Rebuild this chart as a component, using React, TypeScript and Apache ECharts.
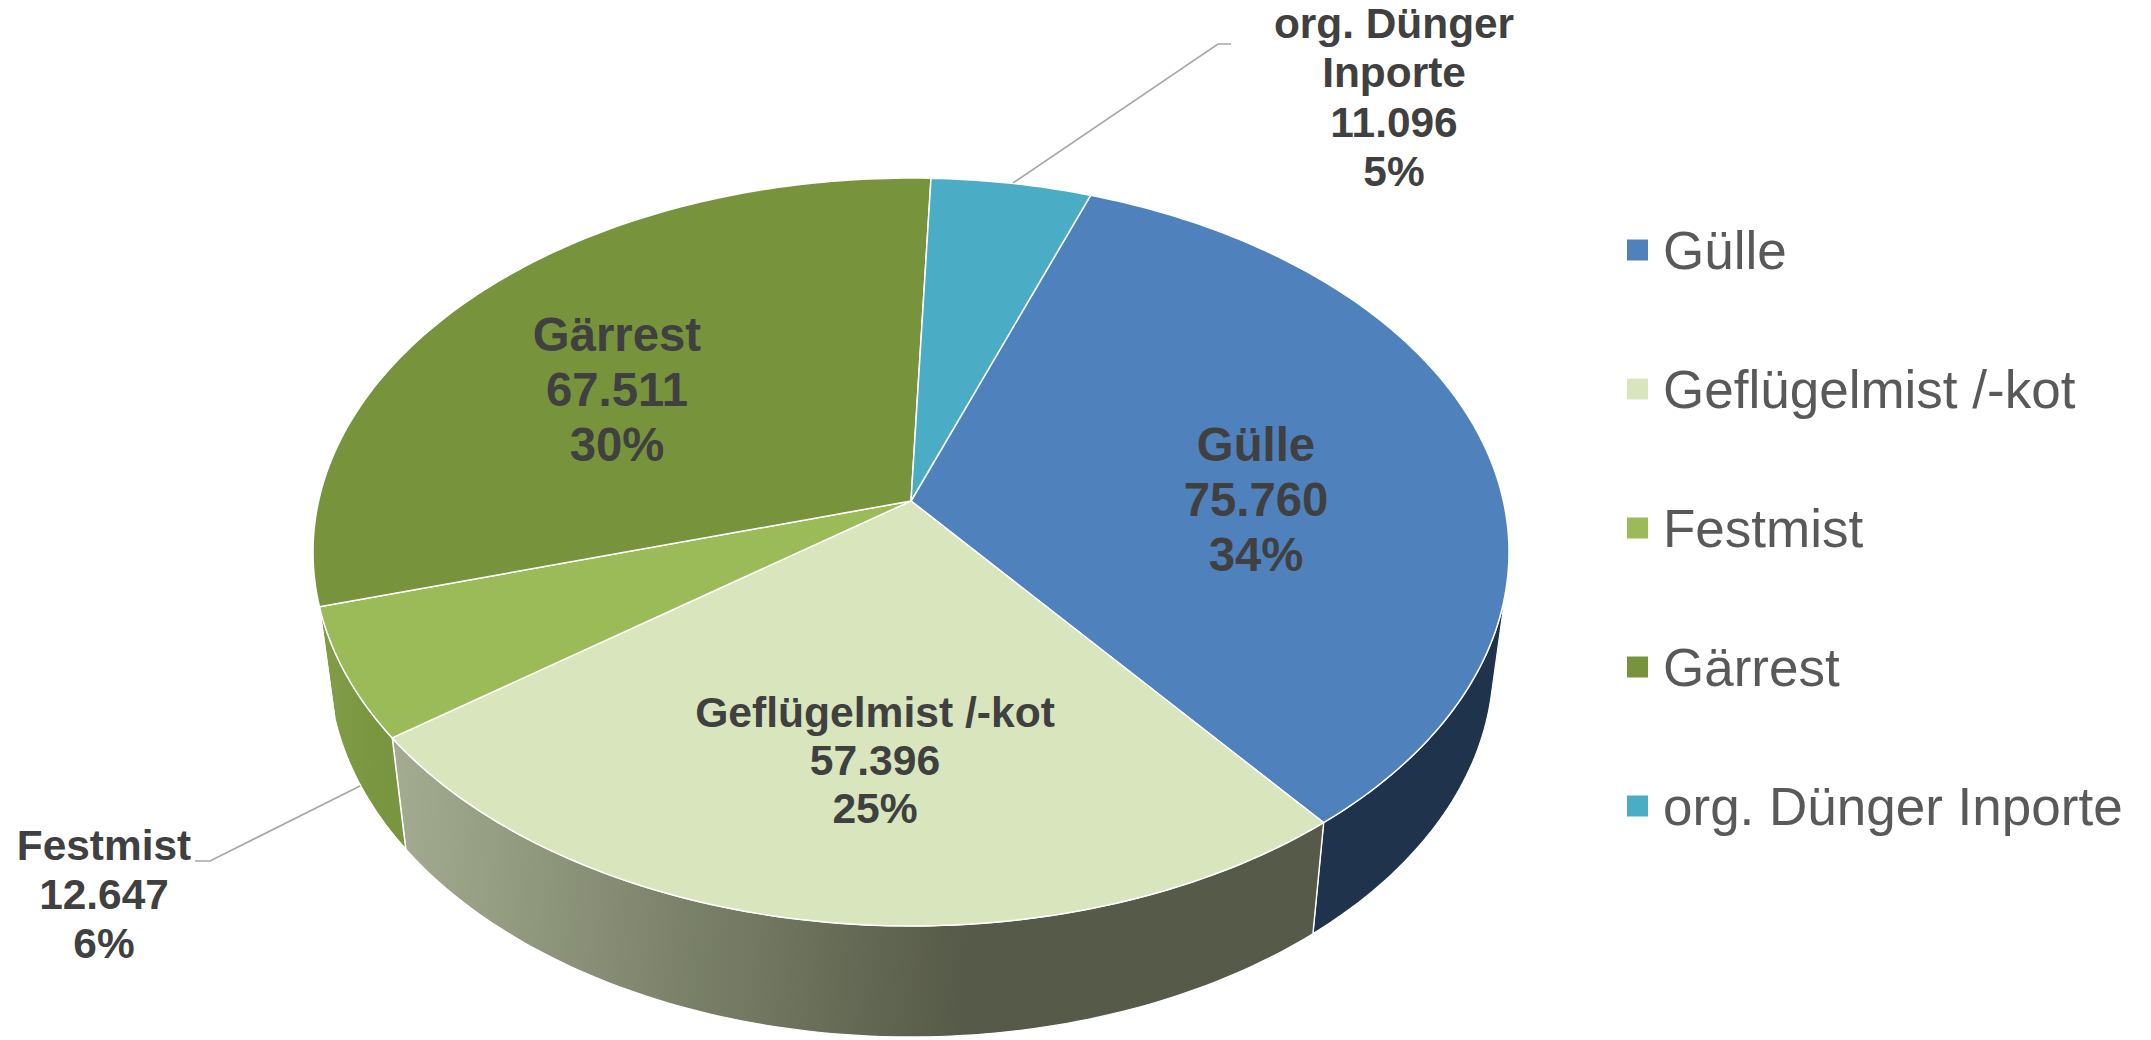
import React, { useEffect, useRef } from "react";
import * as echarts from "echarts";

const categories = ["Gülle", "Geflügelmist /-kot", "Festmist", "Gärrest", "org. Dünger Inporte"];
const values = [75760, 57396, 12647, 67511, 11096];
const valueLabels = ["75.760", "57.396", "12.647", "67.511", "11.096"];
const percentLabels = ["34%", "25%", "6%", "30%", "5%"];
const topColors = ["#4f81bd", "#d9e6bd", "#9bbb59", "#77933c", "#4bacc6"];

const WALL_GEFLUEGEL = new echarts.graphic.LinearGradient(
  385, 0, 1010, 30,
  [
    { offset: 0, color: "#a9b297" },
    { offset: 0.5, color: "#7f866d" },
    { offset: 1, color: "#565a48" },
  ],
  true
);
const WALL_FESTMIST = new echarts.graphic.LinearGradient(
  300, 0, 380, 0,
  [
    { offset: 0, color: "#83a04a" },
    { offset: 1, color: "#7a953f" },
  ],
  true
);
const wallFills: any[] = ["#1f334d", WALL_GEFLUEGEL, WALL_FESTMIST, "#83a04a", "#2f7a8f"];

// Projection of the pie's disc
const PIE = { cx: 911, cy: 501, rx: 592.4, ry: 367, k: 0.1364, startDeg: 20, dropY: 111, shrink: 0.974, stepDeg: 1 };

const labelLayout = [
  { x: 1256, y: 416.5, size: 47.3, lineHeight: 55, lines: ["Gülle"] },
  { x: 875, y: 688, size: 42.6, lineHeight: 48, lines: ["Geflügelmist /-kot"] },
  { x: 104, y: 821, size: 42.4, lineHeight: 49, lines: ["Festmist"] },
  { x: 617, y: 307, size: 47.3, lineHeight: 55, lines: ["Gärrest"] },
  { x: 1394, y: -1, size: 42.4, lineHeight: 49.3, lines: ["org. Dünger", "Inporte"] },
];

const leaderLines: number[][][] = [
  [],
  [],
  [[362, 785], [210, 861], [195, 861]],
  [],
  [[1013, 183], [1218, 44], [1231, 44]],
];

function rimPoint(deg: number, lower: boolean): number[] {
  const t = (deg * Math.PI) / 180;
  const u = Math.sin(t);
  const v = -Math.cos(t);
  const w = 1 - PIE.k * v;
  const px = (PIE.rx * u) / w;
  const py = (PIE.ry * v) / w;
  if (lower) return [PIE.cx + px * PIE.shrink, PIE.cy + py + PIE.dropY];
  return [PIE.cx + px, PIE.cy + py];
}

function arc(from: number, to: number, lower: boolean): number[][] {
  const pts: number[][] = [];
  const n = Math.max(2, Math.ceil((to - from) / PIE.stepDeg));
  for (let i = 0; i <= n; i++) pts.push(rimPoint(from + ((to - from) * i) / n, lower));
  return pts;
}

// The wall is only seen where the rim, walked clockwise, has the drop on its outer side.
function wallFacesViewer(deg: number): boolean {
  const p0 = rimPoint(deg - 0.25, false);
  const p1 = rimPoint(deg + 0.25, false);
  const top = rimPoint(deg, false);
  const low = rimPoint(deg, true);
  const tx = p1[0] - p0[0];
  const ty = p1[1] - p0[1];
  const dx = low[0] - top[0];
  const dy = low[1] - top[1];
  return tx * dy - ty * dx < 0;
}

function visibleRange(a: number, b: number): [number, number] | null {
  let lo: number | null = null;
  let hi: number | null = null;
  for (let d = a; d <= b + 1e-6; d += 0.25) {
    const x = Math.min(d, b);
    if (wallFacesViewer(x)) {
      if (lo === null) lo = x;
      hi = x;
    }
  }
  return lo === null || hi === null || hi - lo < 0.25 ? null : [lo, hi];
}

const total = values.reduce((a, b) => a + b, 0);

function sliceRange(i: number): [number, number] {
  let s = 0;
  for (let j = 0; j < i; j++) s += values[j];
  const a = PIE.startDeg + (s / total) * 360;
  return [a, a + (values[i] / total) * 360];
}

function makeRenderItem(i: number) {
  return () => {
    const [a, b] = sliceRange(i);
    const top = arc(a, b, false);
    const children: any[] = [];
    const vis = visibleRange(a, b);
    if (vis) {
      children.push({
        type: "polygon",
        z2: 1 + i,
        shape: { points: [...arc(vis[0], vis[1], false), ...arc(vis[0], vis[1], true).reverse()] },
        style: { fill: wallFills[i], stroke: "#ffffff", lineWidth: 1.2, lineJoin: "round" },
      });
    }
    children.push({
      type: "polygon",
      z2: 10,
      shape: { points: [[PIE.cx, PIE.cy], ...top] },
      style: { fill: topColors[i], stroke: "#ffffff", lineWidth: 1.5, lineJoin: "round" },
    });
    if (leaderLines[i].length) {
      children.push({
        type: "polyline",
        z2: 0,
        shape: { points: leaderLines[i] },
        style: { fill: "none", stroke: "#a6a6a6", lineWidth: 1.6 },
      });
    }
    const L = labelLayout[i];
    children.push({
      type: "text",
      z2: 20,
      style: {
        x: L.x,
        y: L.y,
        text: [...L.lines, valueLabels[i], percentLabels[i]].join("\n"),
        fill: "#404040",
        font: `bold ${L.size}px "Liberation Sans", Arial, sans-serif`,
        lineHeight: L.lineHeight,
        textAlign: "center",
        textVerticalAlign: "top",
      },
    });
    return { type: "group", children };
  };
}

export default function App() {
  const ref = useRef<HTMLDivElement>(null);
  useEffect(() => {
    const chart = echarts.init(ref.current!, undefined, { renderer: "svg" });
    chart.setOption({
      animation: false,
      backgroundColor: "#ffffff",
      legend: {
        orient: "vertical",
        left: 1627,
        top: 221,
        padding: 0,
        itemWidth: 21,
        itemHeight: 21,
        itemGap: 81,
        icon: "rect",
        data: categories,
        selectedMode: false,
        textStyle: {
          color: "#595959",
          fontSize: 53,
          lineHeight: 58,
          height: 58,
          fontFamily: '"Liberation Sans", Arial, sans-serif',
          padding: [0, 0, 0, 10],
        },
      },
      series: categories.map((name, i) => ({
        type: "custom",
        name,
        coordinateSystem: "none",
        silent: true,
        itemStyle: { color: topColors[i] },
        data: [values[i]],
        renderItem: makeRenderItem(i),
      })),
    });
    return () => chart.dispose();
  }, []);
  return <div ref={ref} style={{ position: "absolute", left: 0, top: 0, width: 2151, height: 1040 }} />;
}
